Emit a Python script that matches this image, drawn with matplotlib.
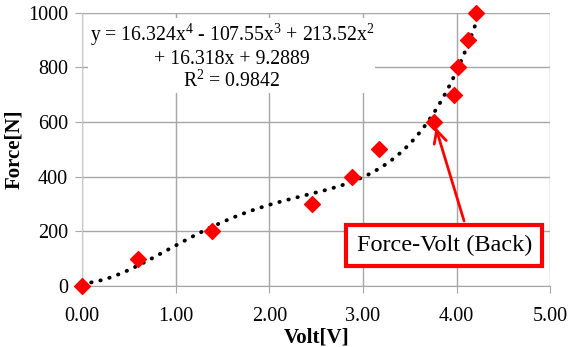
import numpy as np
import matplotlib
matplotlib.use("Agg")
import matplotlib.pyplot as plt

plt.rcParams['font.family'] = ['Liberation Serif', 'DejaVu Serif']
plt.rcParams['mathtext.fontset'] = 'custom'
plt.rcParams['mathtext.rm'] = 'Liberation Serif'

# data
volt = [0.0, 0.60, 1.39, 2.46, 2.88, 3.17, 3.76, 3.97, 4.01, 4.12, 4.21]
force = [0, 100, 200, 300, 400, 500, 600, 700, 800, 900, 1000]
coeffs = [16.324, -107.55, 213.52, 16.318, 9.2889]  # trendline, highest power first
r2 = 0.9842
x_ticks = [0, 1, 2, 3, 4, 5]
y_ticks = [0, 200, 400, 600, 800, 1000]

fig = plt.figure(figsize=(5.69, 3.47), dpi=100)
ax = fig.add_axes([0.144, 0.176, 0.823, 0.787])

grid_c = '#a6a6a6'
ax.set_xlim(0, 5)
ax.set_ylim(0, 1000)
ax.set_xticks(x_ticks)
ax.set_xticklabels([f"{v:.2f}" for v in x_ticks])
ax.set_yticks(y_ticks)
ax.grid(True, color=grid_c, lw=1)
ax.set_axisbelow(True)
for s in ['top', 'right']:
    ax.spines[s].set_visible(False)
ax.spines['left'].set_color('#c8c8c8')
ax.spines['bottom'].set_color(grid_c)
ax.tick_params(axis='both', labelsize=14.5, length=5, color=grid_c)
ax.tick_params(axis='x', pad=10)
ax.tick_params(axis='y', pad=5)

# trendline
xs = np.linspace(0, 4.22, 200)
ax.plot(xs, np.polyval(coeffs, xs), color='black', lw=2.8,
        linestyle=(0, (0.1, 2.3)), dash_capstyle='round', zorder=3, clip_on=False)

ax.scatter(volt, force, marker='D', s=65, color='#ff0000', zorder=4, clip_on=False)

ax.set_xlabel('Volt[V]', fontsize=15, fontweight='bold', labelpad=1)
ax.set_ylabel('Force[N]', fontsize=15, fontweight='bold', labelpad=3)

eq = ("y = 16.324x$^{4}$ - 107.55x$^{3}$ + 213.52x$^{2}$\n"
      "+ 16.318x + 9.2889\n"
      f"R$^{{2}}$ = {r2}")
ax.text(1.60, 968, eq, ha='center', va='top', fontsize=14.2, linespacing=1.08,
        bbox=dict(facecolor='white', edgecolor='none', pad=1), zorder=2.5)

# label box and arrow
ax.text(3.87, 148, 'Force-Volt (Back)', ha='center', va='center', fontsize=17.5,
        bbox=dict(boxstyle='square,pad=0.42', facecolor='white',
                  edgecolor='#ff0000', lw=3), zorder=5)
ax.annotate('', xy=(volt[6], force[6]), xytext=(4.08, 238),
            arrowprops=dict(arrowstyle='->,head_length=0.9,head_width=0.45',
                            color='#ff0000', lw=2, shrinkA=0, shrinkB=4),
            zorder=5)

fig.savefig('out.png', dpi=100)
